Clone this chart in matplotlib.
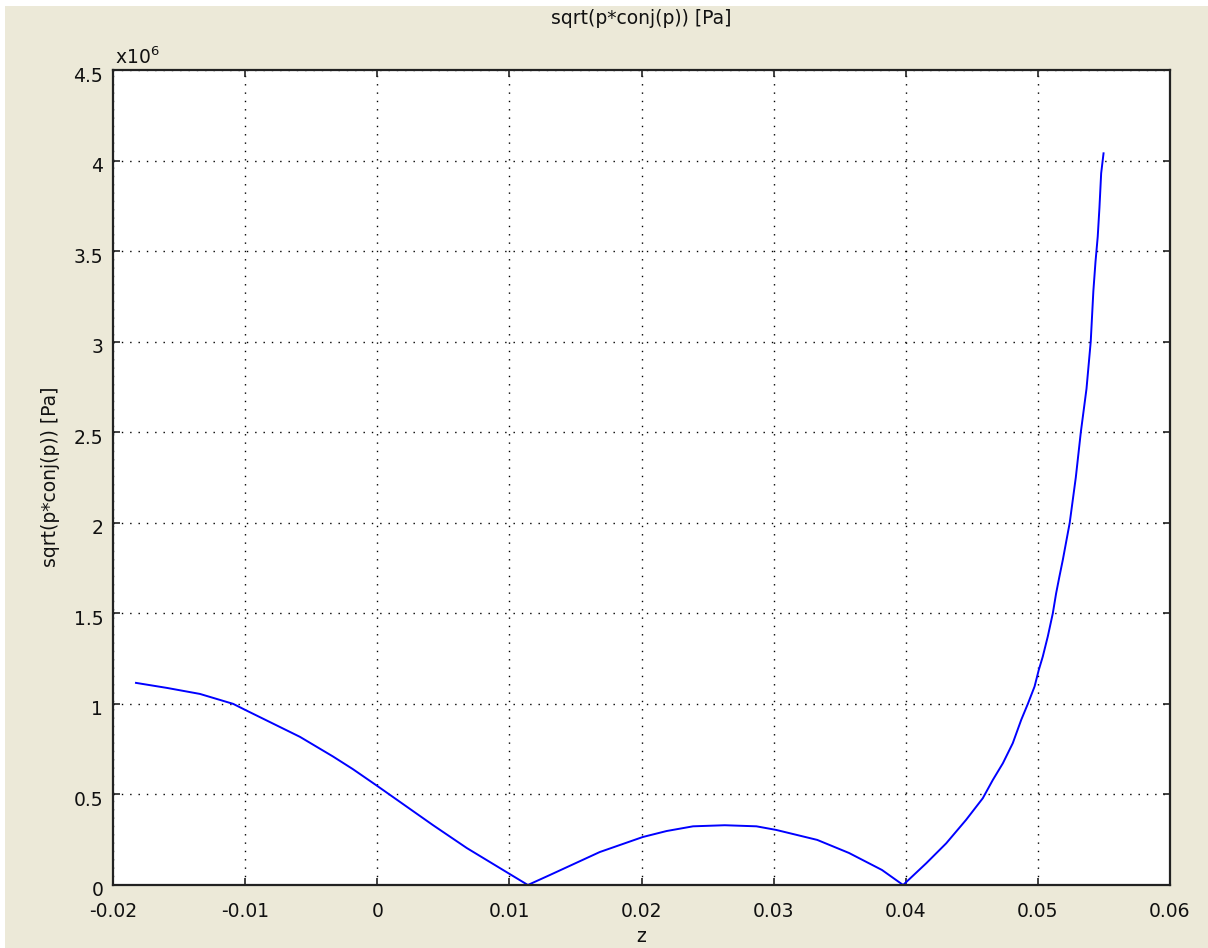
import numpy as np
import matplotlib
matplotlib.use('Agg')
import matplotlib.pyplot as plt
from matplotlib.patches import Rectangle
from matplotlib.ticker import MultipleLocator, FuncFormatter
from matplotlib.transforms import ScaledTranslation

# values (z in m, amplitude in 1e6 Pa)
z = [-0.01826, -0.0159, -0.01342, -0.0109, -0.0100, -0.00585, -0.00336, -0.00185,
     0.0, 0.00421, 0.00678, 0.00927, 0.0114, 0.01306, 0.01684, 0.0201,
     0.0219, 0.0239, 0.0263, 0.0287, 0.0302, 0.0333, 0.0357, 0.0382,
     0.0398, 0.04155, 0.04306, 0.04457, 0.04583, 0.04659, 0.04735, 0.04810,
     0.04874, 0.04924, 0.04975, 0.05007, 0.05037, 0.05075, 0.05113, 0.05138,
     0.05163, 0.05189, 0.05241, 0.05287, 0.05325, 0.05368, 0.05400, 0.05420,
     0.05436, 0.05453, 0.05466, 0.05479, 0.05497]
p_mega = [1.116, 1.088, 1.055, 1.0, 0.967, 0.818, 0.710, 0.640,
          0.547, 0.331, 0.204, 0.094, 0.0, 0.055, 0.182, 0.265,
          0.298, 0.324, 0.330, 0.324, 0.304, 0.249, 0.177, 0.083,
          0.0, 0.12, 0.23, 0.36, 0.479, 0.580, 0.672, 0.783,
          0.912, 1.0, 1.096, 1.188, 1.261, 1.372, 1.50, 1.61,
          1.703, 1.796, 2.0, 2.25, 2.5, 2.74, 3.0, 3.28,
          3.44, 3.58, 3.74, 3.93, 4.04]

title = 'sqrt(p*conj(p)) [Pa]'
bg = '#ECE9D8'
fs = 13.5

plt.rcParams['font.family'] = ['DejaVu Sans']
fig = plt.figure(figsize=(12.08, 9.48), dpi=100, facecolor='white')
fig.patches.append(Rectangle((5/1208, 0), 1, 942/948, transform=fig.transFigure,
                             facecolor=bg, edgecolor='none', zorder=-10))

ax = fig.add_axes([113/1208, 63/948, 1057/1208, 815/948])
ax.plot(z, np.array(p_mega) * 1e6, color='#0000FF', lw=1.4)

ax.set_xlim(-0.02, 0.06)
ax.set_ylim(0, 4.5e6)
ax.xaxis.set_major_locator(MultipleLocator(0.01))
ax.yaxis.set_major_locator(MultipleLocator(0.5e6))
ax.xaxis.set_major_formatter(FuncFormatter(lambda v, pos: '%g' % round(v, 4)))
ax.yaxis.set_major_formatter(FuncFormatter(lambda v, pos: '%g' % round(v / 1e6, 3)))
ax.grid(True, color='black', linestyle=(0, (1, 5)), linewidth=1.0)
ax.tick_params(direction='in', top=True, right=True, length=5, width=1.2,
               labelsize=fs, colors='#222222', labelcolor='#111111')
ax.tick_params(axis='x', pad=12)
ax.tick_params(axis='y', pad=7)
for s in ax.spines.values():
    s.set_linewidth(1.6)
    s.set_color('#222222')

# y tick labels sit a few pixels below their ticks in the reference
shift = ScaledTranslation(0, -4/100, fig.dpi_scale_trans)
for lbl in ax.get_yticklabels():
    lbl.set_transform(lbl.get_transform() + shift)

ax.text(0.002, 1.003, r'x10$^6$', transform=ax.transAxes, fontsize=fs,
        ha='left', va='bottom', color='#111111')
fig.text(641/1208, 1 - 18/948, title, ha='center', va='center', fontsize=fs, color='#111111')
fig.text(51/1208, 1 - 477/948, title, ha='center', va='center', rotation=90,
         fontsize=fs, color='#111111')
fig.text(641/1208, 1 - 936/948, 'z', ha='center', va='center', fontsize=fs, color='#111111')

fig.savefig('out.png', dpi=100, facecolor=fig.get_facecolor())
